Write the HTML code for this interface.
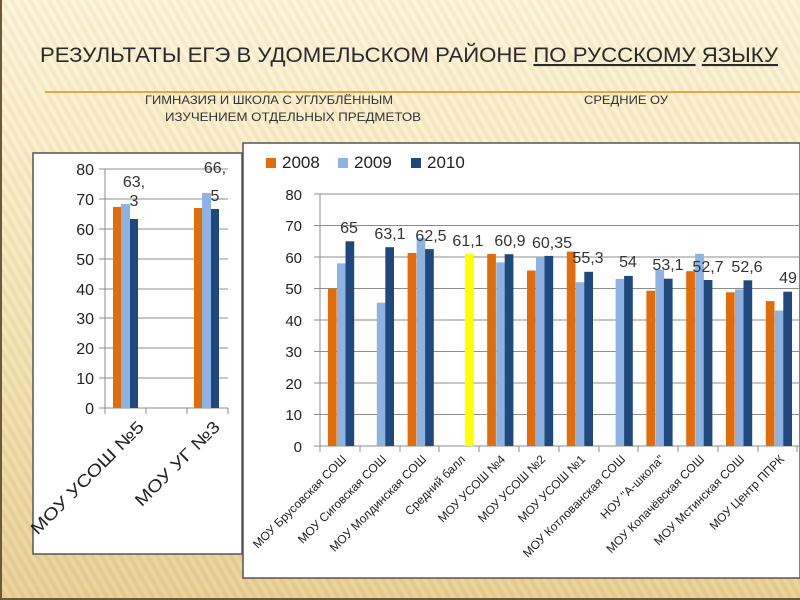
<!DOCTYPE html>
<html><head><meta charset="utf-8"><style>
html,body{margin:0;padding:0}
body{width:800px;height:600px;overflow:hidden;position:relative;
background:linear-gradient(180deg,#fcf4da 0%,#f8ebc4 30%,#efdca6 70%,#e6cd90 100%);
font-family:"Liberation Sans",sans-serif;}
.stripes{position:absolute;inset:0;background:repeating-linear-gradient(60deg,rgba(255,255,255,0.12) 0 4px,rgba(200,160,80,0.10) 4px 8px);}
.frame{position:absolute;inset:0;border-left:2px solid #6b5a3a;border-bottom:2px solid #6b5a3a;box-sizing:border-box}
svg{position:absolute;left:0;top:0}
</style></head><body>
<div class="stripes"></div>
<div class="frame"></div>
<svg width="800" height="600" xmlns="http://www.w3.org/2000/svg" font-family="Liberation Sans, sans-serif">
<!-- title -->
<text x="40" y="62" font-size="21" fill="#2a2a2a" textLength="738" lengthAdjust="spacingAndGlyphs">РЕЗУЛЬТАТЫ ЕГЭ  В  УДОМЕЛЬСКОМ РАЙОНЕ <tspan text-decoration="underline">ПО РУССКОМУ</tspan> <tspan text-decoration="underline">ЯЗЫКУ</tspan></text>
<line x1="45" y1="92" x2="800" y2="92" stroke="#e0a848" stroke-width="2"/>
<text x="145" y="104" font-size="12" fill="#333" textLength="248" lengthAdjust="spacingAndGlyphs">ГИМНАЗИЯ И ШКОЛА С УГЛУБЛЁННЫМ</text>
<text x="165" y="121" font-size="12" fill="#333" textLength="256" lengthAdjust="spacingAndGlyphs">ИЗУЧЕНИЕМ ОТДЕЛЬНЫХ ПРЕДМЕТОВ</text>
<text x="584" y="104" font-size="12" fill="#333" textLength="84" lengthAdjust="spacingAndGlyphs">СРЕДНИЕ ОУ</text>

<!-- left panel -->
<rect x="33" y="153" width="209" height="401" fill="#fff" stroke="#555" stroke-width="1.5"/>
<g stroke="#8c8c8c" stroke-width="1">
<line x1="99" y1="169" x2="228" y2="169"/><line x1="99" y1="199" x2="228" y2="199"/>
<line x1="99" y1="229" x2="228" y2="229"/><line x1="99" y1="259" x2="228" y2="259"/>
<line x1="99" y1="289" x2="228" y2="289"/><line x1="99" y1="318" x2="228" y2="318"/>
<line x1="99" y1="348" x2="228" y2="348"/><line x1="99" y1="378" x2="228" y2="378"/>
<line x1="99" y1="408" x2="228" y2="408"/><line x1="105" y1="169" x2="105" y2="414"/>
<line x1="146" y1="408" x2="146" y2="414"/><line x1="187" y1="408" x2="187" y2="414"/><line x1="228" y1="408" x2="228" y2="414"/>
</g>
<g font-size="16" fill="#222" text-anchor="end">
<text x="94" y="175">80</text><text x="94" y="205">70</text><text x="94" y="235">60</text><text x="94" y="265">50</text>
<text x="94" y="295">40</text><text x="94" y="324">30</text><text x="94" y="354">20</text><text x="94" y="384">10</text><text x="94" y="414">0</text>
</g>
<rect x="113" y="207" width="8" height="201" fill="#e36c0a"/>
<rect x="121" y="204" width="9" height="204" fill="#8db3e2"/>
<rect x="130" y="219" width="8" height="189" fill="#1f497d"/>
<rect x="194" y="208" width="8" height="200" fill="#e36c0a"/>
<rect x="202" y="193" width="9" height="215" fill="#8db3e2"/>
<rect x="211" y="209" width="8" height="199" fill="#1f497d"/>
<g font-size="16" fill="#333" text-anchor="middle">
<text x="134" y="187">63,</text><text x="134" y="206">3</text>
<text x="215" y="173">66,</text><text x="215" y="201">5</text>
</g>
<g font-size="17" fill="#222" text-anchor="end">
<text transform="translate(145,428) rotate(-45)" textLength="152" lengthAdjust="spacingAndGlyphs">МОУ УСОШ №5</text>
<text transform="translate(221,428) rotate(-45)" textLength="112" lengthAdjust="spacingAndGlyphs">МОУ УГ №3</text>
</g>

<!-- right panel -->
<rect x="243" y="143" width="557" height="435" fill="#fff" stroke="#555" stroke-width="1.5"/>
<rect x="266" y="158" width="10" height="10" fill="#e36c0a"/><text x="282" y="168" font-size="17" fill="#222">2008</text>
<rect x="338" y="158" width="10" height="10" fill="#8db3e2"/><text x="354" y="168" font-size="17" fill="#222">2009</text>
<rect x="411" y="158" width="10" height="10" fill="#1f497d"/><text x="427" y="168" font-size="17" fill="#222">2010</text>
<g stroke="#8c8c8c" stroke-width="1">
<line x1="314" y1="194" x2="800" y2="194"/><line x1="314" y1="225.5" x2="800" y2="225.5"/>
<line x1="314" y1="257" x2="800" y2="257"/><line x1="314" y1="288.5" x2="800" y2="288.5"/>
<line x1="314" y1="320" x2="800" y2="320"/><line x1="314" y1="351.5" x2="800" y2="351.5"/>
<line x1="314" y1="383" x2="800" y2="383"/><line x1="314" y1="414.5" x2="800" y2="414.5"/>
<line x1="314" y1="446" x2="800" y2="446"/><line x1="320" y1="194" x2="320" y2="452"/>
<path d="M360 446v6M400 446v6M439 446v6M479 446v6M519 446v6M559 446v6M599 446v6M638 446v6M678 446v6M718 446v6M758 446v6M797 446v6"/>
</g>
<g font-size="15" fill="#222" text-anchor="end">
<text x="302" y="200">80</text><text x="302" y="231">70</text><text x="302" y="263">60</text><text x="302" y="294">50</text>
<text x="302" y="326">40</text><text x="302" y="357">30</text><text x="302" y="389">20</text><text x="302" y="420">10</text><text x="302" y="452">0</text>
</g>
<g id="bars">
<rect x="328" y="288.5" width="8.7" height="157.5" fill="#e36c0a"/>
<rect x="337" y="263.3" width="8.7" height="182.7" fill="#8db3e2"/>
<rect x="345.5" y="241.3" width="8.7" height="204.7" fill="#1f497d"/>

<rect x="376.8" y="302.7" width="8.7" height="143.3" fill="#8db3e2"/>
<rect x="385.3" y="247.2" width="8.7" height="198.8" fill="#1f497d"/>

<rect x="407.6" y="252.9" width="8.7" height="193.1" fill="#e36c0a"/>
<rect x="416.6" y="238.1" width="8.7" height="207.9" fill="#8db3e2"/>
<rect x="425.1" y="249.1" width="8.7" height="196.9" fill="#1f497d"/>

<rect x="464.9" y="253.5" width="8.7" height="192.5" fill="#ffff00"/>

<rect x="487.2" y="253.9" width="8.7" height="192.1" fill="#e36c0a"/>
<rect x="496.2" y="262.4" width="8.7" height="183.6" fill="#8db3e2"/>
<rect x="504.7" y="254.2" width="8.7" height="191.8" fill="#1f497d"/>

<rect x="527" y="270.5" width="8.7" height="175.5" fill="#e36c0a"/>
<rect x="536" y="257" width="8.7" height="189" fill="#8db3e2"/>
<rect x="544.5" y="255.9" width="8.7" height="190.1" fill="#1f497d"/>

<rect x="566.8" y="251.6" width="8.7" height="194.4" fill="#e36c0a"/>
<rect x="575.8" y="282.2" width="8.7" height="163.8" fill="#8db3e2"/>
<rect x="584.3" y="271.8" width="8.7" height="174.2" fill="#1f497d"/>

<rect x="615.6" y="279" width="8.7" height="167" fill="#8db3e2"/>
<rect x="624.1" y="275.9" width="8.7" height="170.1" fill="#1f497d"/>

<rect x="646.4" y="290.7" width="8.7" height="155.3" fill="#e36c0a"/>
<rect x="655.4" y="269.6" width="8.7" height="176.4" fill="#8db3e2"/>
<rect x="663.9" y="278.7" width="8.7" height="167.3" fill="#1f497d"/>

<rect x="686.2" y="271.2" width="8.7" height="174.8" fill="#e36c0a"/>
<rect x="695.2" y="253.8" width="8.7" height="192.2" fill="#8db3e2"/>
<rect x="703.7" y="280" width="8.7" height="166" fill="#1f497d"/>

<rect x="726" y="292.3" width="8.7" height="153.7" fill="#e36c0a"/>
<rect x="735" y="289.4" width="8.7" height="156.6" fill="#8db3e2"/>
<rect x="743.5" y="280.3" width="8.7" height="165.7" fill="#1f497d"/>

<rect x="765.8" y="301.1" width="8.7" height="144.9" fill="#e36c0a"/>
<rect x="774.8" y="310.6" width="8.7" height="135.4" fill="#8db3e2"/>
<rect x="783.3" y="291.7" width="8.7" height="154.3" fill="#1f497d"/>
</g>
<g font-size="16" fill="#333" text-anchor="middle">
<text x="349" y="233">65</text><text x="390" y="239">63,1</text><text x="431" y="241">62,5</text>
<text x="468" y="246">61,1</text><text x="510" y="246">60,9</text><text x="552" y="248">60,35</text>
<text x="588" y="263">55,3</text><text x="628" y="267">54</text><text x="668" y="270">53,1</text>
<text x="708" y="272">52,7</text><text x="747" y="272">52,6</text><text x="788" y="283">49</text>
</g>
<g font-size="12" fill="#222" text-anchor="end">
<text transform="translate(347,460) rotate(-45)">МОУ Брусовская СОШ</text>
<text transform="translate(387,460) rotate(-45)">МОУ Сиговская СОШ</text>
<text transform="translate(427,460) rotate(-45)">МОУ Молдинская СОШ</text>
<text transform="translate(466,460) rotate(-45)">Средний балл</text>
<text transform="translate(506,460) rotate(-45)">МОУ УСОШ №4</text>
<text transform="translate(546,460) rotate(-45)">МОУ УСОШ №2</text>
<text transform="translate(586,460) rotate(-45)">МОУ УСОШ №1</text>
<text transform="translate(626,460) rotate(-45)">МОУ Котлованская СОШ</text>
<text transform="translate(665,460) rotate(-45)">НОУ "А-школа"</text>
<text transform="translate(705,460) rotate(-45)">МОУ Копачёвская СОШ</text>
<text transform="translate(745,460) rotate(-45)">МОУ Мстинская СОШ</text>
<text transform="translate(785,460) rotate(-45)">МОУ Центр ППРК</text>
</g>
</svg>
</body></html>
